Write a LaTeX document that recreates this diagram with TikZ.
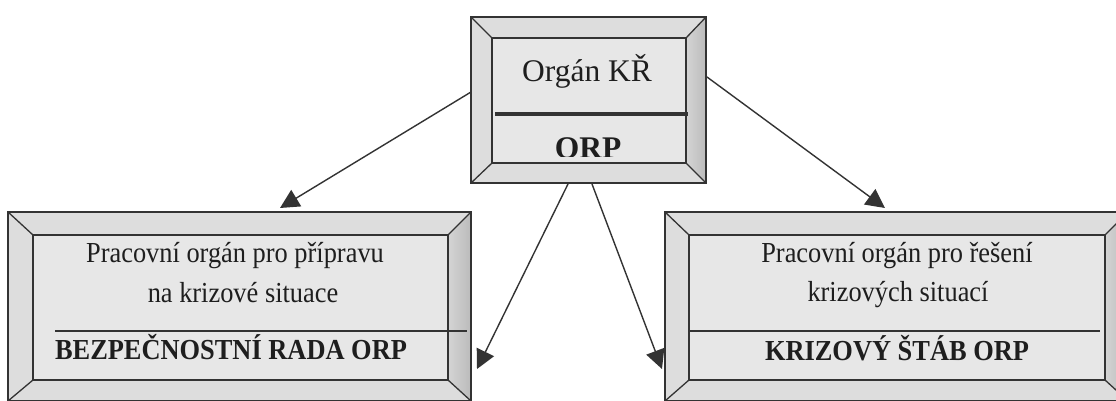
\documentclass[tikz,border=0pt]{standalone}
\usepackage{fontspec}
\setmainfont{Liberation Serif}
\usetikzlibrary{arrows.meta,calc}
\definecolor{ink}{HTML}{333333}
\definecolor{txt}{HTML}{1E1E1E}
\definecolor{face}{HTML}{E7E7E7}
\definecolor{bev}{HTML}{DDDDDD}
\definecolor{bevdarkA}{HTML}{D4D4D4}
\definecolor{bevdarkB}{HTML}{BBBBBB}
\tikzset{
  framebox/.style={rectangle, draw=none, inner sep=0pt, outer sep=0pt},
  frameline/.style={draw=ink, line width=1.3pt, line join=miter},
  conn/.style={draw=ink, line width=1.4pt, -{Triangle[length=19pt,width=19pt]}},
  smalltext/.style={font=\fontsize{29}{32}\selectfont, text=txt, inner sep=0pt, anchor=base},
  smallbold/.style={font=\fontsize{29}{32}\selectfont\bfseries, text=txt, inner sep=0pt, anchor=base},
  bigtext/.style={font=\fontsize{31.5}{36}\selectfont, text=txt, inner sep=0pt, anchor=base},
  bigbold/.style={font=\fontsize{31.5}{36}\selectfont\bfseries, text=txt, inner sep=0pt, anchor=base},
}
\newcommand\narrowtext[1]{\scalebox{0.91}[1]{#1}}
\newcommand\bevelframe[2]{%
  \fill[bev] (#1.north west) -- (#1.north east) -- (#2.north east) -- (#2.north west) -- cycle;
  \fill[bev] (#1.north west) -- (#2.north west) -- (#2.south west) -- (#1.south west) -- cycle;
  \fill[bev] (#1.south west) -- (#2.south west) -- (#2.south east) -- (#1.south east) -- cycle;
  \shade[left color=bevdarkA, right color=bevdarkB] (#1.north east) -- (#1.south east) -- (#2.south east) -- (#2.north east) -- cycle;
  \fill[face] (#2.north west) rectangle (#2.south east);
  \draw[frameline] (#1.north west) rectangle (#1.south east);
  \draw[frameline] (#2.north west) rectangle (#2.south east);
  \draw[frameline] (#1.north west) -- (#2.north west) (#1.north east) -- (#2.north east)
                   (#1.south west) -- (#2.south west) (#1.south east) -- (#2.south east);
}
\begin{document}
\begin{tikzpicture}[x=1pt,y=-1pt]
\useasboundingbox (0,0) rectangle (1116,401);
\clip (0,0) rectangle (1116,401);
\fill[white] (0,0) rectangle (1116,401);

% frames
\node[framebox, minimum width=235pt, minimum height=166pt] (top) at (588.5,100) {};
\node[framebox, minimum width=194pt, minimum height=125pt] (topin) at (589,100.5) {};
\node[framebox, minimum width=463pt, minimum height=189pt] (left) at (239.5,306.5) {};
\node[framebox, minimum width=415pt, minimum height=145pt] (leftin) at (240.5,307.5) {};
\node[framebox, minimum width=463pt, minimum height=189pt] (right) at (896.5,306.5) {};
\node[framebox, minimum width=416pt, minimum height=145pt] (rightin) at (897,307.5) {};

\bevelframe{top}{topin}
\bevelframe{left}{leftin}
\bevelframe{right}{rightin}

% dividers
\draw[ink, line width=4pt] (495,114) -- (688,114);
\draw[ink, line width=1.3pt] (55,331) -- (467,331);
\draw[ink, line width=1.3pt] (689,331) -- (1100,331);

% texts
\node[bigtext] (t1) at (587,82) {Orgán KŘ};
\begin{scope}
  \clip (493,120) rectangle (685,156);
  \node[bigbold] (t2) at (588,158) {ORP};
\end{scope}
\node[smalltext] (l1) at (235,262) {\narrowtext{Pracovní orgán pro přípravu}};
\node[smalltext] (l2) at (243,302) {\narrowtext{na krizové situace}};
\node[smallbold] (l3) at (231,359) {\narrowtext{BEZPEČNOSTNÍ RADA ORP}};
\node[smalltext] (r1) at (897,262) {\narrowtext{Pracovní orgán pro řešení}};
\node[smalltext] (r2) at (898,301) {\narrowtext{krizových situací}};
\node[smallbold] (r3) at (897,360) {\narrowtext{KRIZOVÝ ŠTÁB ORP}};

% connectors
\coordinate (s1) at (471,92);
\coordinate (e1) at (280,208);
\coordinate (s2) at (707,77);
\coordinate (e2) at (885,208);
\coordinate (s3) at (568,184);
\coordinate (e3) at (477,369);
\coordinate (s4) at (592,184);
\coordinate (e4) at (662,369);
\draw[conn] (s1) -- (e1);
\draw[conn] (s2) -- (e2);
\draw[conn] (s3) -- (e3);
\draw[conn] (s4) -- (e4);
\end{tikzpicture}
\end{document}
